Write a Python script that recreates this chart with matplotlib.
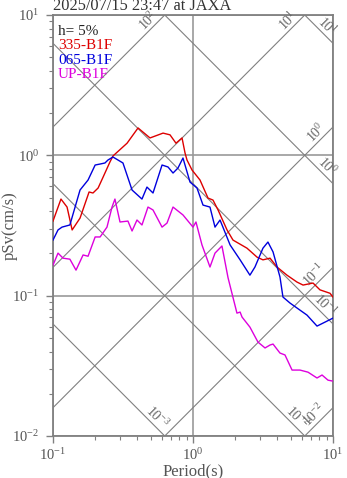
import numpy as np
import matplotlib
matplotlib.use('Agg')
import matplotlib.pyplot as plt

plt.rcParams['font.family'] = ['Liberation Serif', 'DejaVu Serif']
plt.rcParams['mathtext.fontset'] = 'custom'
plt.rcParams['mathtext.rm'] = 'Liberation Serif'
plt.rcParams['mathtext.it'] = 'Liberation Serif:italic'
plt.rcParams['mathtext.bf'] = 'Liberation Serif:bold'

# Dados (período em s, pSv em cm/s)
titulo = '2025/07/15 23:47 at JAXA'
amortecimento = 'h= 5%'

t_335 = [0.1, 0.114, 0.126, 0.137, 0.156, 0.181, 0.193, 0.21, 0.228, 0.255, 0.268,
         0.338, 0.405, 0.493, 0.611, 0.685, 0.756, 0.835, 0.877, 0.906, 0.984, 1.122,
         1.28, 1.389, 1.51, 1.75, 1.93, 2.43, 2.87, 3.16, 3.55, 3.98, 4.69, 5.53,
         6.11, 7.20, 8.07, 9.52, 10.0]
sv_335 = [0.340, 0.488, 0.428, 0.294, 0.357, 0.548, 0.539, 0.585, 0.70, 0.896, 0.989,
          1.22, 1.567, 1.33, 1.44, 1.40, 1.22, 1.33, 1.04, 0.926, 0.786, 0.667,
          0.496, 0.480, 0.408, 0.294, 0.249, 0.218, 0.188, 0.180, 0.185, 0.160, 0.140, 0.125,
          0.119, 0.123, 0.110, 0.104, 0.0978]

t_065 = [0.1, 0.1086, 0.116, 0.132, 0.156, 0.178, 0.2, 0.217, 0.235, 0.247, 0.268,
         0.316, 0.367, 0.432, 0.469, 0.518, 0.601, 0.663, 0.720, 0.781, 0.848, 0.952,
         1.068, 1.179, 1.322, 1.436, 1.56, 1.69, 1.84, 2.17, 2.55, 2.77, 3.16, 3.43,
         3.73, 4.18, 4.39, 4.93, 6.52, 7.69, 8.77, 10.0]
sv_065 = [0.249, 0.294, 0.308, 0.319, 0.566, 0.667, 0.853, 0.867, 0.882, 0.926, 0.973,
          0.882, 0.566, 0.488, 0.594, 0.539, 0.853, 0.826, 0.748, 0.812, 0.957, 0.645,
          0.585, 0.442, 0.428, 0.308, 0.346, 0.284, 0.230, 0.180, 0.140, 0.160, 0.218, 0.241,
          0.205, 0.136, 0.0978, 0.0886, 0.0727, 0.0607, 0.0648, 0.0692]

t_up = [0.1, 0.1086, 0.118, 0.132, 0.146, 0.164, 0.178, 0.2, 0.217, 0.243, 0.264,
        0.277, 0.301, 0.343, 0.367, 0.398, 0.432, 0.477, 0.518, 0.601, 0.652, 0.720,
        0.848, 1.0, 1.05, 1.159, 1.322, 1.436, 1.61, 1.78, 2.06, 2.17, 2.24, 2.55,
        2.91, 3.27, 3.55, 3.73, 4.18, 4.54, 5.10, 5.81, 6.63, 7.69, 8.35, 9.21, 10.0]
sv_up = [0.165, 0.201, 0.185, 0.182, 0.152, 0.195, 0.191, 0.262, 0.262, 0.308, 0.428,
         0.488, 0.335, 0.340, 0.289, 0.346, 0.319, 0.428, 0.408, 0.308, 0.329, 0.428,
         0.376, 0.308, 0.335, 0.230, 0.160, 0.201, 0.226, 0.134, 0.0751, 0.0764, 0.0704, 0.0597,
         0.0467, 0.0424, 0.0445, 0.0452, 0.0390, 0.0378, 0.0295, 0.0295, 0.0285, 0.0259, 0.0272, 0.0250, 0.0246]

series = [
    ('335-B1F', t_335, sv_335, '#dd0000'),
    ('065-B1F', t_065, sv_065, '#0000dd'),
    ('UP-B1F', t_up, sv_up, '#dd00dd'),
]

# Linhas diagonais: aceleração (cm/s2) e deslocamento (cm)
acel_niveis = [1e2, 1e1, 1e0, 1e-1, 1e-2]
acel_rotulos = ['$10^{2}$', '$10^{1}$', '$10^{0}$', '$10^{-1}$', '$10^{-2}$']
desl_niveis = [1e1, 1e0, 1e-1, 1e-2, 1e-3]
desl_rotulos = ['$10^{1}$', '$10^{0}$', '$10^{-1}$', '$10^{-2}$', '$10^{-3}$']

t_min, t_max = 0.1, 10.0
sv_min, sv_max = 0.01, 10.0

fig = plt.figure(figsize=(3.47, 4.78), dpi=100)
ax = fig.add_axes([53 / 347, 42 / 478, 280 / 347, 421 / 478])
ax.set_xscale('log')
ax.set_yscale('log')
ax.set_xlim(t_min, t_max)
ax.set_ylim(sv_min, sv_max)

cor_diag = '#808080'
dois_pi = 2 * np.pi
t_lin = np.array([t_min, t_max])

for a, rot in zip(acel_niveis, acel_rotulos):
    ax.plot(t_lin, a * t_lin / dois_pi, color=cor_diag, lw=0.8, zorder=1)
    t_fim = min(t_max, sv_max * dois_pi / a)
    sv_fim = a * t_fim / dois_pi
    ax.annotate(rot, (t_fim, sv_fim), xytext=(-3, -3), textcoords='offset points',
                rotation=45, rotation_mode='anchor', ha='right', va='bottom',
                fontsize=10, color='#666666')

for d, rot in zip(desl_niveis, desl_rotulos):
    ax.plot(t_lin, dois_pi * d / t_lin, color=cor_diag, lw=0.8, zorder=1)
    t_fim = min(t_max, dois_pi * d / sv_min)
    sv_fim = dois_pi * d / t_fim
    ax.annotate(rot, (t_fim, sv_fim), xytext=(-3, 3), textcoords='offset points',
                rotation=-45, rotation_mode='anchor', ha='right', va='bottom',
                fontsize=10, color='#666666')

ax.grid(True, which='major', color='#999999', lw=1.2)
ax.set_axisbelow(True)

for nome, t, sv, cor in series:
    ax.plot(t, sv, color=cor, lw=1.0, zorder=3)

for lado in ax.spines.values():
    lado.set_color('#808080')
    lado.set_linewidth(1.3)

ax.tick_params(which='major', direction='out', length=5, width=1.0, color='#808080',
               labelsize=10.5, labelcolor='#555555')
ax.tick_params(axis='y', which='major', pad=5)
ax.tick_params(axis='x', which='major', pad=3)
ax.tick_params(which='minor', direction='out', length=3, width=0.8, color='#808080')
ax.tick_params(top=False, right=False, which='both')

ax.set_xlabel('Period(s)', fontsize=12, color='#555555', labelpad=0)
ax.set_ylabel('pSv(cm/s)', fontsize=12, color='#555555')
ax.yaxis.set_label_coords((18 - 53) / 280, 0.5)

fig.text(53 / 347, 1 - 10.5 / 478, titulo, fontsize=11.8, color='#333333', va='baseline', ha='left')

ax.text(0.018, 0.977, amortecimento, transform=ax.transAxes, fontsize=11, color='#222222', va='top', ha='left')
for i, (nome, t, sv, cor) in enumerate(series):
    ax.text(0.018, 0.977 - (i + 1) * 0.0345, nome, transform=ax.transAxes, fontsize=11,
            color=cor, va='top', ha='left')

fig.savefig('out.png', dpi=100)
